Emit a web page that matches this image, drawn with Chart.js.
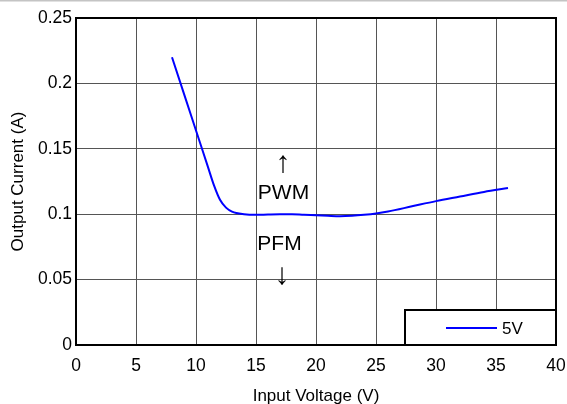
<!DOCTYPE html>
<html>
<head>
<meta charset="utf-8">
<script src="https://cdn.jsdelivr.net/npm/chart.js@4.4.0/dist/chart.umd.min.js"></script>
<style>
  html, body { margin: 0; padding: 0; background: #fff; }
  #wrap { width: 567px; height: 404px; position: relative; }
</style>
</head>
<body>
<div id="wrap"><canvas id="chart" width="567" height="404"></canvas></div>
<script>
// input voltage (V) and output current (A)
const inputVoltage = [8, 9, 10, 10.5, 11, 11.5, 12, 12.5, 13, 14, 15, 16, 17, 18, 19, 20, 21, 22, 23, 24, 25, 26, 28, 30, 32, 34, 36];
const outputCurrent = [0.22, 0.192, 0.164, 0.15, 0.136, 0.122, 0.111, 0.105, 0.102, 0.1, 0.0995, 0.0998, 0.1, 0.1, 0.0995, 0.0992, 0.0988, 0.0985, 0.0988, 0.0995, 0.1005, 0.102, 0.106, 0.11, 0.1135, 0.117, 0.12];
const seriesLabel = '5V';

// mode labels placed in data coordinates
const modeNotes = [
  { text: '\u2191', x: 17.25, y: 0.1388, arrow: true },
  { text: 'PWM', x: 17.29, y: 0.1158 },
  { text: 'PFM', x: 16.96, y: 0.0768 },
  { text: '\u2193', x: 17.17, y: 0.0528, arrow: true }
];

const FONT = '"Liberation Sans", Arial, sans-serif';

const framePlugin = {
  id: 'frame',
  afterDraw(chart) {
    const ctx = chart.ctx;
    const a = chart.chartArea;
    const sx = chart.scales.x, sy = chart.scales.y;
    ctx.save();
    // thin grey rule along the top edge
    ctx.fillStyle = '#c4c4c4';
    ctx.fillRect(0, 0, chart.width, 1.5);
    // notes
    ctx.fillStyle = '#000';
    ctx.textAlign = 'center';
    ctx.textBaseline = 'middle';
    modeNotes.forEach(n => {
      ctx.font = n.arrow ? '30px ' + FONT : '21px ' + FONT;
      ctx.fillText(n.text, sx.getPixelForValue(n.x), sy.getPixelForValue(n.y));
    });
    // legend box
    const lx = 405, ly = 310;
    ctx.fillStyle = '#fff';
    ctx.fillRect(lx, ly, a.right - lx, a.bottom - ly);
    ctx.strokeStyle = '#000';
    ctx.lineWidth = 2;
    ctx.strokeRect(lx, ly, a.right - lx, a.bottom - ly);
    ctx.strokeStyle = '#0000ff';
    ctx.lineWidth = 2;
    ctx.beginPath();
    ctx.moveTo(446, 328);
    ctx.lineTo(497, 328);
    ctx.stroke();
    ctx.fillStyle = '#000';
    ctx.font = '17px ' + FONT;
    ctx.textAlign = 'left';
    ctx.fillText(seriesLabel, 502, 329);
    // plot frame
    ctx.strokeStyle = '#000';
    ctx.lineWidth = 2;
    ctx.strokeRect(a.left, a.top, a.right - a.left, a.bottom - a.top);
    ctx.restore();
  }
};

new Chart(document.getElementById('chart'), {
  type: 'line',
  data: {
    datasets: [{
      label: seriesLabel,
      data: inputVoltage.map((v, i) => ({ x: v, y: outputCurrent[i] })),
      borderColor: '#0000ff',
      borderWidth: 2,
      pointRadius: 0,
      cubicInterpolationMode: 'monotone',
      fill: false
    }]
  },
  options: {
    responsive: false,
    animation: false,
    layout: { padding: { top: 18, right: 11, left: 0, bottom: 0 } },
    plugins: { legend: { display: false }, tooltip: { enabled: false } },
    scales: {
      x: {
        type: 'linear',
        min: 0, max: 40,
        afterFit: s => { s.height = 59; s.paddingLeft = 0; s.paddingRight = 0; },
        ticks: { stepSize: 5, color: '#000', font: { family: FONT, size: 17.5 }, padding: 11, maxRotation: 0 },
        grid: { color: '#555', lineWidth: 1, drawTicks: false },
        border: { color: '#000', width: 2 },
        title: { display: true, text: 'Input Voltage (V)', color: '#000', font: { family: FONT, size: 17 }, padding: { top: 0, bottom: -3 } }
      },
      y: {
        min: 0, max: 0.25,
        afterFit: s => { s.width = 76; s.paddingTop = 0; s.paddingBottom = 0; },
        ticks: { stepSize: 0.05, color: '#000', font: { family: FONT, size: 17.5 }, padding: 4,
          callback: v => String(Math.round(v * 100) / 100) },
        grid: { color: '#555', lineWidth: 1, drawTicks: false },
        border: { color: '#000', width: 2 },
        title: { display: true, text: 'Output Current (A)', color: '#000', font: { family: FONT, size: 17 }, padding: { top: 8, bottom: 0 } }
      }
    }
  },
  plugins: [framePlugin]
});
</script>
</body>
</html>
